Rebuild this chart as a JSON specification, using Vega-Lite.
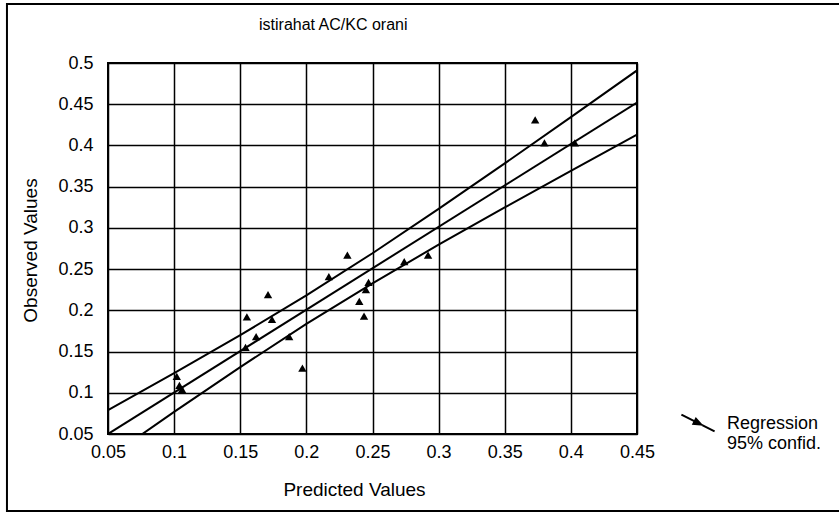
{
  "$schema": "https://vega.github.io/schema/vega-lite/v6.json",
  "width": 529,
  "height": 371,
  "autosize": "none",
  "padding": {"left": 108, "top": 63, "right": 202, "bottom": 79},
  "background": "white",
  "title": {
    "text": "istirahat AC/KC orani",
    "anchor": "start",
    "frame": "group",
    "dx": 151,
    "offset": 0,
    "dy": 43,
    "baseline": "alphabetic",
    "font": "Liberation Sans",
    "fontSize": 16,
    "fontWeight": "normal",
    "color": "black"
  },
  "datasets": {
    "points": [
      {"pred": 0.102, "obs": 0.12},
      {"pred": 0.104, "obs": 0.109},
      {"pred": 0.106, "obs": 0.104},
      {"pred": 0.155, "obs": 0.192},
      {"pred": 0.154, "obs": 0.155},
      {"pred": 0.162, "obs": 0.168},
      {"pred": 0.171, "obs": 0.219},
      {"pred": 0.174, "obs": 0.189},
      {"pred": 0.187, "obs": 0.168},
      {"pred": 0.197, "obs": 0.130},
      {"pred": 0.217, "obs": 0.241},
      {"pred": 0.231, "obs": 0.267},
      {"pred": 0.240, "obs": 0.211},
      {"pred": 0.2436, "obs": 0.193},
      {"pred": 0.245, "obs": 0.225},
      {"pred": 0.247, "obs": 0.234},
      {"pred": 0.274, "obs": 0.259},
      {"pred": 0.292, "obs": 0.267},
      {"pred": 0.373, "obs": 0.431},
      {"pred": 0.380, "obs": 0.403},
      {"pred": 0.403, "obs": 0.403}
    ],
    "lines": [
      {"series": "upper", "px": 0.05, "py": 0.079},
      {"series": "upper", "px": 0.1, "py": 0.1238},
      {"series": "upper", "px": 0.15, "py": 0.1698},
      {"series": "upper", "px": 0.2, "py": 0.2181},
      {"series": "upper", "px": 0.25, "py": 0.2692},
      {"series": "upper", "px": 0.3, "py": 0.323},
      {"series": "upper", "px": 0.35, "py": 0.3782},
      {"series": "upper", "px": 0.4, "py": 0.4344},
      {"series": "upper", "px": 0.45, "py": 0.491},
      {"series": "reg", "px": 0.05, "py": 0.05},
      {"series": "reg", "px": 0.45, "py": 0.452},
      {"series": "lower", "px": 0.05, "py": 0.021},
      {"series": "lower", "px": 0.1, "py": 0.0768},
      {"series": "lower", "px": 0.15, "py": 0.1312},
      {"series": "lower", "px": 0.2, "py": 0.1835},
      {"series": "lower", "px": 0.25, "py": 0.2328},
      {"series": "lower", "px": 0.3, "py": 0.2796},
      {"series": "lower", "px": 0.35, "py": 0.3248},
      {"series": "lower", "px": 0.4, "py": 0.3692},
      {"series": "lower", "px": 0.45, "py": 0.413}
    ]
  },
  "layer": [
    {
      "data": {"values": [{}]},
      "mark": {"type": "rect", "fill": null, "stroke": "black", "strokeWidth": 2, "clip": false},
      "encoding": {
        "x": {"datum": -0.0264, "type": "quantitative"},
        "x2": {"datum": 0.66},
        "y": {"datum": 0.5716, "type": "quantitative"},
        "y2": {"datum": -0.0434}
      }
    },
    {
      "data": {"name": "lines"},
      "mark": {"type": "line", "stroke": "black", "strokeWidth": 2, "clip": true},
      "encoding": {
        "x": {"field": "px", "type": "quantitative"},
        "y": {"field": "py", "type": "quantitative"},
        "detail": {"field": "series"},
        "color": {
          "datum": "Regression",
          "type": "nominal",
          "scale": {"range": ["black"]},
          "legend": {
            "orient": "none",
            "legendX": 572,
            "legendY": 343,
            "title": null,
            "padding": 0,
            "symbolType": "M-1,-0.56L1,0.44M0.2,0.04L-0.122,-0.322L-0.282,0Z",
            "symbolSize": 1100,
            "symbolFillColor": "black",
            "symbolStrokeColor": "black",
            "symbolStrokeWidth": 2,
            "labelExpr": "['Regression', '95% confid.']",
            "labelFont": "Liberation Sans",
            "labelFontSize": 18,
            "labelColor": "black",
            "labelOffset": 11,
            "labelBaseline": "middle"
          }
        }
      }
    },
    {
      "data": {"name": "points"},
      "mark": {"type": "point", "shape": "triangle-up", "filled": true, "color": "black", "opacity": 1, "size": 70},
      "encoding": {
        "x": {"field": "pred", "type": "quantitative"},
        "y": {"field": "obs", "type": "quantitative"}
      }
    }
  ],
  "encoding": {
    "x": {
      "type": "quantitative",
      "scale": {"domain": [0.05, 0.45], "nice": false, "zero": false},
      "axis": {
        "title": "Predicted Values",
        "values": [0.05, 0.1, 0.15, 0.2, 0.25, 0.3, 0.35, 0.4, 0.45],
        "format": "~g",
        "titleX": 246,
        "titleY": 55,
        "titleBaseline": "middle",
        "labelPadding": 9
      }
    },
    "y": {
      "type": "quantitative",
      "scale": {"domain": [0.05, 0.5], "nice": false, "zero": false},
      "axis": {
        "title": "Observed Values",
        "values": [0.05, 0.1, 0.15, 0.2, 0.25, 0.3, 0.35, 0.4, 0.45, 0.5],
        "format": "~g",
        "titleX": -78,
        "titleY": 187,
        "titleBaseline": "middle",
        "labelPadding": 15
      }
    }
  },
  "config": {
    "view": {"stroke": "black", "strokeWidth": 2},
    "axis": {
      "grid": true,
      "gridColor": "black",
      "gridOpacity": 1,
      "gridWidth": 1.5,
      "domain": false,
      "ticks": false,
      "labelFlush": false,
      "labelOverlap": false,
      "labelFont": "Liberation Sans",
      "labelFontSize": 18,
      "labelColor": "black",
      "titleFont": "Liberation Sans",
      "titleFontSize": 19,
      "titleFontWeight": "normal",
      "titleColor": "black"
    }
  }
}
